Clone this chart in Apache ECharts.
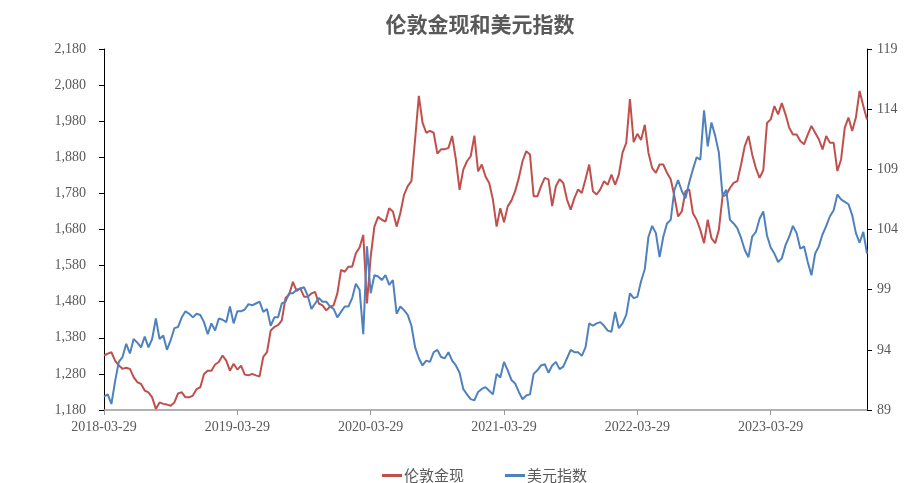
<!DOCTYPE html>
<html>
<head>
<meta charset="utf-8">
<script src="https://cdn.jsdelivr.net/npm/echarts@6/dist/echarts.min.js"></script>
<style>
  html, body { margin: 0; padding: 0; background: #fff; }
  #chart { width: 924px; height: 483px; }
</style>
</head>
<body>
<div id="chart"></div>
<script>
// 日期：每月 9/19/29 三个点（2 月用 28），从 2018-03-29 到 2023-12-19
var dates = [];
(function () {
  for (var y = 2018; y <= 2023; y++) {
    for (var m = 1; m <= 12; m++) {
      [9, 19, 29].forEach(function (d) {
        var dd = (m === 2 && d === 29) ? 28 : d;
        var s = y + '-' + (m < 10 ? '0' + m : m) + '-' + (dd < 10 ? '0' + dd : dd);
        if (s >= '2018-03-29' && s <= '2023-12-19') dates.push(s);
      });
    }
  }
})();

// 伦敦金现
var gold = [
  1331, 1336, 1340, 1317, 1303, 1294, 1297, 1294, 1271, 1257,
  1252, 1234, 1229, 1215, 1183, 1201, 1197, 1195, 1192, 1201,
  1226, 1229, 1215, 1215, 1220, 1238, 1243, 1280, 1289, 1289,
  1306, 1313, 1331, 1317, 1289, 1308, 1292, 1303, 1278, 1276,
  1280, 1276, 1273, 1327, 1340, 1400, 1410, 1415, 1428, 1490,
  1500, 1535, 1510, 1517, 1494, 1494, 1503, 1507, 1475, 1470,
  1456, 1466, 1470, 1503, 1568, 1563, 1577, 1577, 1614, 1630,
  1665, 1475, 1605, 1688, 1715, 1707, 1702, 1739, 1730, 1688,
  1725, 1776, 1800, 1814, 1930, 2050, 1976, 1948, 1953, 1948,
  1890, 1902, 1902, 1906, 1939, 1874, 1790, 1846, 1869, 1883,
  1940, 1841, 1860, 1827, 1809, 1763, 1688, 1739, 1700, 1744,
  1760, 1786, 1823, 1869, 1897, 1888, 1772, 1772, 1800, 1823,
  1819, 1745, 1800, 1819, 1809, 1763, 1735, 1767, 1791, 1781,
  1819, 1860, 1786, 1777, 1791, 1814, 1804, 1832, 1804, 1832,
  1893, 1920, 2041, 1922, 1945, 1928, 1970, 1892, 1850, 1837,
  1860, 1860, 1837, 1819, 1772, 1716, 1730, 1786, 1791, 1725,
  1707, 1679, 1642, 1707, 1656, 1642, 1679, 1772, 1776, 1795,
  1809, 1814, 1860, 1911, 1939, 1888, 1850, 1823, 1844, 1975,
  1985, 2022, 1999, 2030, 1999, 1962, 1943, 1943, 1925, 1916,
  1943, 1967, 1948, 1930, 1902, 1939, 1920, 1920, 1842, 1874,
  1962, 1990, 1953, 1990, 2064, 2022, 1985
];

// 美元指数
var dxy = [
  90.1, 90.3, 89.5, 91.4, 93.0, 93.4, 94.5, 93.7, 94.9, 94.6,
  94.2, 95.1, 94.2, 94.9, 96.6, 94.9, 95.2, 94.0, 94.8, 95.8,
  95.9, 96.7, 97.2, 97.0, 96.7, 97.0, 96.9, 96.3, 95.3, 96.2,
  95.6, 96.6, 96.5, 96.3, 97.6, 96.2, 97.2, 97.2, 97.35, 97.8,
  97.7, 97.85, 98.0, 97.15, 97.4, 96.0, 96.7, 96.7, 97.85, 98.0,
  98.7, 98.7, 99.0, 99.1, 99.2, 98.5, 97.4, 97.85, 98.3, 98.0,
  98.0, 97.6, 97.4, 96.7, 97.15, 97.6, 97.6, 98.3, 99.5, 99.0,
  95.3, 102.6, 98.7, 100.2, 100.1, 99.8, 100.2, 99.4, 99.8, 97.0,
  97.6, 97.3, 96.9, 96.0, 94.2, 93.3, 92.7, 93.1, 93.0, 93.8,
  94.0, 93.4, 93.3, 93.8, 93.1, 92.7, 92.1, 90.75, 90.3, 89.9,
  89.8, 90.5, 90.75, 90.9, 90.6, 90.3, 92.0, 91.7, 93.0, 92.3,
  91.5, 91.2, 90.5, 89.9, 90.2, 90.3, 92.0, 92.3, 92.7, 92.8,
  92.1, 92.7, 93.0, 92.4, 92.6, 93.3, 94.0, 93.8, 93.8, 93.5,
  94.2, 96.2, 96.0, 96.2, 96.3, 96.0, 95.6, 95.5, 97.15, 95.8,
  96.2, 96.9, 98.7, 98.3, 98.4, 99.7, 100.7, 103.4, 104.3, 103.7,
  101.7, 103.4, 104.5, 104.8, 107.3, 108.1, 107.2, 106.6, 107.9, 109.0,
  110.0, 109.8, 113.9, 110.9, 112.9, 111.8, 110.4, 106.8, 107.3, 104.8,
  104.5, 104.1, 103.3, 102.3, 101.7, 103.4, 103.8, 104.9, 105.5, 103.5,
  102.5, 102.0, 101.3, 101.6, 102.7, 103.4, 104.3, 103.7, 102.4, 102.6,
  101.3, 100.2, 102.0, 102.6, 103.6, 104.3, 105.1, 105.6, 106.9, 106.5,
  106.3, 106.1, 105.2, 103.7, 102.9, 103.8, 102.0
];

var seriesNames = ['伦敦金现', '美元指数'];

var chart = echarts.init(document.getElementById('chart'));

var labelFont = '"Liberation Serif", "Noto Sans CJK SC", serif';
var cjkFont = '"Noto Sans CJK SC", sans-serif';

// 只在每年 03-29 显示刻度和标签
var isYearTick = function (idx, val) {
  return /-03-29$/.test(val);
};

var option = {
  backgroundColor: '#fff',
  animation: false,
  title: {
    text: '伦敦金现和美元指数',
    left: 475,
    textAlign: 'center',
    top: 9,
    textStyle: { fontFamily: cjkFont, fontSize: 21, fontWeight: 'bold', color: '#595959' }
  },
  legend: {
    data: seriesNames,
    left: 377,
    top: 463,
    itemGap: 41,
    itemWidth: 20,
    itemHeight: 3,
    icon: 'rect',
    textStyle: { fontFamily: cjkFont, fontSize: 15, color: '#595959', padding: [0, 0, 0, -3] }
  },
  grid: { left: 104, right: 57, top: 49, bottom: 73 },
  xAxis: {
    type: 'category',
    data: dates,
    boundaryGap: false,
    axisLine: { lineStyle: { color: '#999', width: 1.5 } },
    axisTick: { interval: isYearTick, length: 5, lineStyle: { color: '#999' } },
    axisLabel: {
      interval: isYearTick,
      margin: 10,
      fontFamily: labelFont,
      fontSize: 14,
      color: '#595959'
    },
    splitLine: { show: false }
  },
  yAxis: [
    {
      type: 'value',
      min: 1180,
      max: 2180,
      interval: 100,
      axisLine: { show: true, lineStyle: { color: '#000' } },
      axisTick: { show: true, length: 5, lineStyle: { color: '#000' } },
      axisLabel: {
        margin: 18,
        fontFamily: labelFont,
        fontSize: 14,
        color: '#595959',
        formatter: function (v) { return v.toLocaleString('en-US'); }
      },
      splitLine: { show: false }
    },
    {
      type: 'value',
      min: 89,
      max: 119,
      interval: 5,
      position: 'right',
      axisLine: { show: true, lineStyle: { color: '#000' } },
      axisTick: { show: true, length: 5, lineStyle: { color: '#000' } },
      axisLabel: {
        margin: 10,
        fontFamily: labelFont,
        fontSize: 14,
        color: '#595959'
      },
      splitLine: { show: false }
    }
  ],
  series: [
    {
      name: seriesNames[0],
      type: 'line',
      yAxisIndex: 0,
      data: gold,
      showSymbol: false,
      lineStyle: { color: '#C0504D', width: 2 },
      itemStyle: { color: '#C0504D' }
    },
    {
      name: seriesNames[1],
      type: 'line',
      yAxisIndex: 1,
      data: dxy,
      showSymbol: false,
      lineStyle: { color: '#4F81BD', width: 2 },
      itemStyle: { color: '#4F81BD' }
    }
  ]
};

chart.setOption(option);
</script>
</body>
</html>
